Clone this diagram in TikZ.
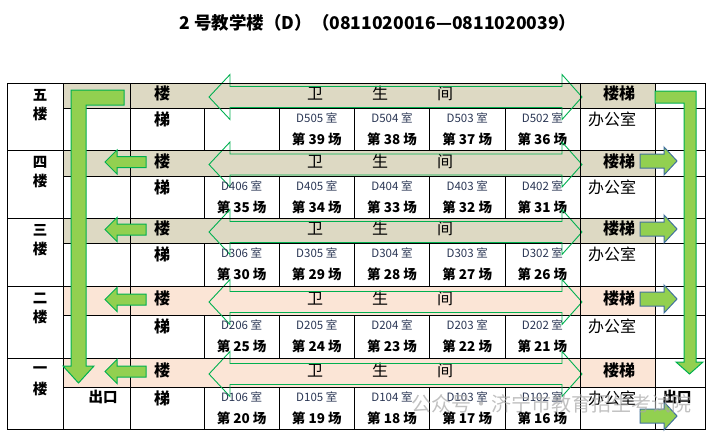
\documentclass[tikz,border=0pt]{standalone}
\usepackage{fontspec}
\setmainfont{Noto Sans CJK SC}
\definecolor{bandgray}{HTML}{DDD9C3}
\definecolor{bandpeach}{HTML}{FBE5D6}
\definecolor{arrowgreen}{HTML}{92D050}
\definecolor{edgegreen}{HTML}{00B050}
\definecolor{edgeblue}{HTML}{41719C}
\definecolor{roomblue}{HTML}{2A3654}

\tikzset{
  grid line/.style={line width=0.9pt},
  big arrow/.style={fill=arrowgreen,draw=edgegreen,line width=1pt},
  blue arrow/.style={fill=arrowgreen,draw=edgeblue,line width=1pt},
  wc arrow/.style={draw=edgegreen,line width=0.9pt},
  txt/.style={inner sep=0pt,font=\fontsize{#1}{#1}\selectfont},
  btxt/.style={inner sep=0pt,font=\fontsize{#1}{#1}\selectfont\bfseries},
}

\begin{document}
\begin{tikzpicture}[x=1pt,y=-1pt]
\useasboundingbox (0,0) rectangle (712,434);
\node[btxt=17.5] (title) at (378,23) {2 号教学楼（D）（0811020016—0811020039）};

% one floor per pass: number/top/middle/bottom/band colour/label
\foreach \fl/\ytop/\ymid/\ybot/\bandcol/\lab in {5/83/108/150/bandgray/五,
    4/150/176/218/bandgray/四,3/218/243/286/bandgray/三,
    2/286/315/358/bandpeach/二,1/358/387/429/bandpeach/一}{
  \pgfmathsetmacro\yc{(\ytop+\ymid)/2}
  \pgfmathsetmacro\w{\yc+1.5}
  \fill[\bandcol] (63,\ytop) rectangle (655,\ymid);
  \draw[grid line] (63,\ymid) -- (705,\ymid);
  \foreach \x in {204,279,354,429,505} \draw[grid line] (\x,\ymid) -- (\x,\ybot);
  \node[btxt=14.5] (fa\fl) at (40,\ytop+12) {\lab};
  \node[btxt=14.5] (fb\fl) at (40,\ytop+31) {楼};
  \node[btxt=16] (st\fl) at (162,\yc-2) {楼};
  \node[btxt=16] (sb\fl) at (162,\ymid+11) {梯};
  \node[txt=16] (wc\fl) at (380,\yc-2) {卫\hspace{49pt}生\hspace{49pt}间};
  \node[btxt=16] (ss\fl) at (619,\yc-2) {楼梯};
  \node[txt=16] (of\fl) at (612,\ymid+11) {办公室};
  \draw[wc arrow] (209,\w) -- (230,\w-22.5) -- (230,\w-10.5) -- (562,\w-10.5)
    -- (562,\w-22.5) -- (582,\w) -- (562,\w+22.5) -- (562,\w+10.5)
    -- (230,\w+10.5) -- (230,\w+22.5) -- cycle;
  % rooms
  \pgfmathtruncatemacro\kfirst{\fl==5 ? 5 : 4}
  \foreach \k in {\kfirst,...,8}{
    \pgfmathsetmacro\xr{204+75.2*(\k-4)+37.6}
    \pgfmathtruncatemacro\rno{10-\k}
    \pgfmathtruncatemacro\sno{15+5*(\fl-1)+9-\k}
    \node[txt=11.5,text=roomblue] (d\fl\k) at (\xr,\ymid+10) {D\fl0\rno\ 室};
    \node[btxt=13.5] (n\fl\k) at (\xr,\ymid+31) {第 \sno\ 场};
  }
}

% table lines
\draw[grid line] (7,83) rectangle (705,429);
\foreach \y in {150,218,286,358} \draw[grid line] (7,\y) -- (705,\y);
\foreach \x in {63,130,580,655} \draw[grid line] (\x,83) -- (\x,429);

% way down and out
\draw[big arrow] (124,90) -- (71,90) -- (71,366) -- (63,366) -- (78.5,383)
  -- (94,366) -- (86,366) -- (86,105) -- (124,105) -- cycle;
\draw[big arrow] (655,91) -- (696,91) -- (696,362) -- (703,362) -- (689.5,374)
  -- (676,362) -- (684,362) -- (684,103) -- (655,103) -- cycle;
\foreach \yc in {162,229.5,299.5,371.5}
  \draw[big arrow] (105,\yc) -- (117,\yc-12) -- (117,\yc-5.5) -- (146,\yc-5.5)
    -- (146,\yc+5.5) -- (117,\yc+5.5) -- (117,\yc+12) -- cycle;
\foreach \yc in {161,229,299,416}
  \draw[blue arrow] (640,\yc-7) -- (664,\yc-7) -- (664,\yc-14) -- (677,\yc)
    -- (664,\yc+14) -- (664,\yc+7) -- (640,\yc+7) -- cycle;

\node[btxt=14.5] (exl) at (103,397) {出口};
\node[btxt=14.5] (exr) at (677,397) {出口};

\node[txt=20,text=gray!70,opacity=0.7] (wm) at (551,404) {公众号·济宁市教育招生考试院};
\end{tikzpicture}
\end{document}
